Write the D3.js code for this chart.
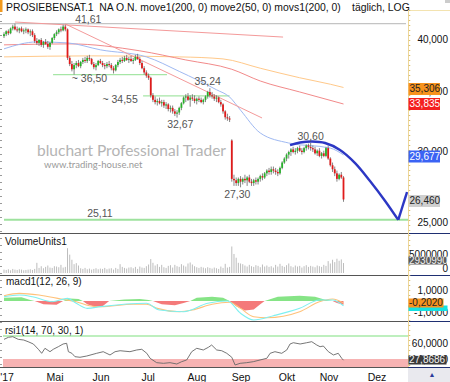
<!DOCTYPE html>
<html><head><meta charset="utf-8">
<script src="https://cdn.jsdelivr.net/npm/d3@7/dist/d3.min.js"></script>
<style>
body{margin:0;background:#fff}
svg{display:block}
text{font-family:"Liberation Sans",Arial,Helvetica,sans-serif}
</style>
</head><body>
<svg id="c" width="450" height="382"></svg>
<script>
// ---------------- DATA ----------------
const opens = [
40.3,40.5,40.8,40.6,41.1,41.3,41.0,40.9,41.1,40.8, 40.9,41.0,40.7,40.8,40.4,39.8,39.6,39.9,39.4,39.7,
39.5,39.2,39.6,40.1,40.5,40.7,41.0,40.9,41.3,41.0, 38.1,37.5,37.0,37.4,37.6,37.3,37.7,37.9,37.8,38.1,
38.0,37.5,37.2,37.4,37.8,37.6,37.4,37.3,37.5,37.4, 37.1,36.9,37.4,37.7,37.9,37.8,38.1,37.9,38.0,37.8,
37.9,38.2,38.0,37.6,37.1,36.7,36.4,36.2,34.6,34.2, 34.0,34.1,33.9,34.0,33.7,33.8,33.4,33.5,33.2,33.0,
33.1,33.5,33.9,34.4,34.5,34.2,34.4,34.3,34.1,34.3, 34.2,34.0,34.2,34.5,34.9,34.6,34.5,34.3,34.4,34.0,
33.8,33.2,32.7,32.6,30.8,27.9,27.8,27.6,27.9,27.7, 27.9,27.8,28.0,27.7,27.6,27.8,27.7,27.9,28.1,28.0,
28.3,28.5,28.4,28.6,28.5,28.4,28.3,28.7,29.1,29.4, 29.7,29.9,30.1,29.9,30.0,30.2,30.0,29.9,30.2,30.4,
30.3,30.2,30.1,29.8,30.0,29.6,29.8,29.6,30.2,29.4, 28.9,28.6,28.3,27.9,28.2,28.0];
const highs = [
40.7,40.9,41.0,41.2,41.5,41.61,41.3,41.2,41.3,41.1, 41.2,41.1,41.0,41.0,40.6,40.1,40.0,40.1,39.8,40.0,
39.8,39.7,40.2,40.6,40.9,41.1,41.3,41.5,41.5,41.1, 38.3,37.8,37.6,37.8,37.9,37.8,38.1,38.2,38.3,38.4,
38.1,37.7,37.6,37.9,38.0,37.8,37.6,37.7,37.8,37.6, 37.3,37.5,37.9,38.1,38.2,38.3,38.4,38.2,38.3,38.1,
38.4,38.5,38.2,37.8,37.3,36.9,36.6,36.3,34.8,34.5, 34.3,34.4,34.2,34.2,34.0,33.9,33.7,33.7,33.4,33.3,
33.6,34.0,34.5,34.7,34.8,34.6,34.7,34.6,34.4,34.5, 34.4,34.3,34.6,35.0,35.24,34.9,34.7,34.6,34.5,34.2,
33.9,33.3,33.0,32.8,30.9,28.2,28.0,28.0,28.1,28.0, 28.2,28.1,28.2,27.9,27.9,28.0,28.0,28.2,28.3,28.4,
28.6,28.7,28.8,28.8,28.7,28.6,28.8,29.2,29.5,29.8, 30.0,30.2,30.3,30.2,30.3,30.4,30.2,30.3,30.5,30.55,
30.6,30.4,30.3,30.1,30.2,29.9,30.0,30.3,30.4,29.5, 29.1,28.8,28.5,28.3,28.4,28.1];
const lows = [
40.1,40.3,40.4,40.5,40.9,40.9,40.7,40.6,40.7,40.5, 40.6,40.5,40.3,40.2,39.6,39.4,39.3,39.2,39.1,39.4,
39.0,38.9,39.5,39.9,40.3,40.5,40.7,40.8,40.8,37.9, 37.3,36.8,36.5,37.1,37.2,37.1,37.5,37.6,37.6,37.8,
37.4,37.0,36.9,37.3,37.5,37.2,37.0,37.1,37.2,36.9, 36.6,36.8,37.2,37.5,37.6,37.7,37.8,37.6,37.7,37.5,
37.8,37.9,37.4,37.0,36.5,36.2,36.0,34.4,34.0,33.8, 33.7,33.8,33.6,33.5,33.4,33.2,33.1,33.0,32.8,32.67,
32.9,33.3,33.8,34.0,34.1,33.6,34.1,33.9,33.8,34.0, 33.9,33.8,34.0,34.3,34.4,34.3,34.1,34.0,33.9,33.6,
33.0,32.5,32.4,32.3,27.7,27.4,27.4,27.4,27.3,27.5, 27.6,27.4,27.6,27.4,27.4,27.5,27.5,27.7,27.8,27.9,
28.1,28.2,28.2,28.3,28.2,28.1,28.2,28.6,29.0,29.2, 29.4,29.6,29.8,29.7,29.8,29.9,29.7,29.8,30.0,30.1,
30.0,29.9,29.7,29.6,29.5,29.4,29.5,29.5,29.3,28.8, 28.4,28.1,27.7,27.8,27.9,26.3];
const closes = [
40.5,40.8,40.6,41.1,41.3,41.0,40.9,41.1,40.8,40.9, 41.0,40.7,40.8,40.4,39.8,39.6,39.9,39.4,39.7,39.5,
39.2,39.6,40.1,40.5,40.7,41.0,40.9,41.3,41.0,38.1, 37.5,37.0,37.4,37.6,37.3,37.7,37.9,37.8,38.1,38.0,
37.5,37.2,37.4,37.8,37.6,37.4,37.3,37.5,37.4,37.1, 36.9,37.4,37.7,37.9,37.8,38.1,37.9,38.0,37.8,37.9,
38.2,38.0,37.6,37.1,36.7,36.4,36.2,34.6,34.2,34.0, 34.1,33.9,34.0,33.7,33.8,33.4,33.5,33.2,33.0,33.1,
33.5,33.9,34.4,34.5,34.2,34.4,34.3,34.1,34.3,34.2, 34.0,34.2,34.5,34.9,34.6,34.5,34.3,34.4,34.0,33.8,
33.2,32.7,32.6,32.5,27.9,27.8,27.6,27.9,27.7,27.9, 27.8,28.0,27.7,27.6,27.8,27.7,27.9,28.1,28.0,28.3,
28.5,28.4,28.6,28.5,28.4,28.3,28.7,29.1,29.4,29.7, 29.9,30.1,29.9,30.0,30.2,30.0,29.9,30.2,30.4,30.3,
30.2,30.1,29.8,30.0,29.6,29.8,29.6,30.2,29.4,28.9, 28.6,28.3,27.9,28.2,28.0,26.46];
// volume in millions
const volumes = [
1.0,0.9,1.1,0.8,1.2,1.0,0.9,1.1,1.0,0.8, 0.9,1.0,1.1,0.9,1.2,3.0,1.5,2.0,1.4,1.8,
2.2,1.6,1.5,2.0,1.9,1.7,2.4,1.6,1.8,7.3, 5.4,3.9,2.6,2.9,2.2,1.4,1.2,1.5,1.1,1.3,
1.0,1.2,1.4,1.1,1.3,1.2,1.5,1.1,1.3,1.4, 1.0,1.5,1.2,2.6,1.8,1.5,1.3,1.6,1.7,1.4,
1.8,1.2,1.9,1.6,1.5,2.0,2.5,4.1,3.0,2.2, 2.6,1.8,2.4,1.7,1.5,2.1,2.3,1.6,2.4,2.0,
1.8,2.6,2.2,1.9,2.8,3.1,2.5,2.0,1.7,1.5, 1.8,1.6,1.4,1.7,1.5,1.3,1.6,1.4,1.2,1.9,
1.5,2.7,1.6,1.8,7.8,5.6,4.5,3.0,2.8,2.6, 2.2,1.9,2.4,2.0,1.8,2.3,2.1,1.7,2.5,1.9,
2.2,1.8,2.0,1.6,2.4,1.9,2.7,2.1,1.8,2.3, 2.8,2.0,1.7,2.2,1.9,2.1,1.6,2.0,2.3,1.8,
2.1,1.9,1.7,2.2,2.0,1.8,2.4,2.1,3.5,2.8, 3.9,3.2,4.2,3.6,4.0,2.93];
// moving averages read at sample days: [day index, value]
const ma50 = [[0,39.0],[15,39.7],[29,39.6],[44,38.9],[65,38.2],[80,36.8],[97,35.1],[103,34.45],[108,33.3],[117,31.4],[130,30.6],[149,30.2],[155,29.677]];
const ema200 = [[0,39.4],[30,39.5],[62,38.8],[83,37.9],[104,37.0],[117,35.9],[135,34.9],[155,33.835]];
const sma200 = [[0,38.2],[40,38.3],[80,38.2],[100,38.0],[117,37.1],[135,36.2],[149,35.6],[155,35.306]];
const trendLines = [[5,41.79,127.4,40.2],[27.9,41.59,117.8,32.64]];
const projection = [[130.6,30.44],[135.2,30.64],[140.6,30.72],[146.6,30.6],[153.4,30.06],[160.3,29.06],[167.1,27.75],[174,26.36],[180,25.1]];
const projectionEnd = [[180,25.1],[184,26.97]];
const greenLevels = [[36.5,22.4,74.4],[34.55,63.5,103]];
const supportLevel = 25.11, resistLevel = 41.61;
const priceNotes = [["41,61",38.5,42.0],["~ 36,50",39,36.05],["~ 34,55",53,34.2],["35,24",93,35.75],["32,67",80.5,32.05],["30,60",140,31.05],["27,30",106.5,26.75],["25,11",43.8,25.5]];
const priceTicks = [40,35,30,25];
const macdLine = [[0,0.41],[7,0.57],[13,0.41],[22,-0.07],[29,0.25],[33,-0.22],[38,-0.70],[44,-0.54],[65,-0.22],[71,-0.86],[82,-1.02],[93,-0.22],[102,0.0],[108,-1.17],[114,-1.81],[123,-1.40],[135,-0.70],[144,0.10],[150,0.10],[155,-0.45]];
const signalLine = [[0,0.50],[7,0.73],[16,0.57],[26,0.19],[33,-0.07],[39,-0.45],[44,-0.54],[59,-0.31],[65,-0.31],[70,-0.70],[80,-1.02],[86,-0.86],[95,-0.31],[103,-0.12],[108,-0.70],[114,-1.50],[120,-1.59],[135,-1.02],[144,-0.07],[150,0.19],[155,-0.202]];
const macdHist = [[0,0.3],[8,0.35],[12,0.1],[14,0],[18,-0.3],[24,-0.35],[27,0],[30,0.25],[34,0.2],[36,0],[38,-0.3],[42,-0.6],[45,-0.5],[48,0],[55,0.15],[62,0.2],[66,0.1],[68,0],[72,-0.3],[78,-0.4],[82,-0.2],[85,0],[88,0.3],[95,0.4],[100,0.3],[103,0],[106,-0.5],[110,-0.9],[114,-0.8],[117,-0.3],[119,0],[125,0.4],[135,0.5],[142,0.4],[147,0.1],[150,0],[152,-0.2],[155,-0.35]];
const rsi = [[0,64.2],[2,67.7],[4,68.8],[6.5,64.2],[9,63.0],[11,60.1],[13.4,56.1],[15.7,46.9],[17.2,39.9],[18.7,48.6],[21,42.7],[22.5,46.9],[24.8,51.4],[27,56.1],[28.6,57.3],[29.4,42.7],[31,39.9],[32.4,34.0],[34.7,33.0],[37.8,35.2],[42.3,39.9],[45.3,42.7],[48.4,37.0],[50.7,42.7],[53,44.4],[57.5,42.7],[60.6,45.7],[62.9,46.9],[65.2,39.9],[66.7,31.2],[69.7,23.6],[72.8,22.5],[75.8,23.6],[78.9,21.3],[81.1,25.3],[83.4,28.3],[85.7,42.7],[88,48.6],[91,45.7],[93.3,50.3],[94.8,54.3],[97.1,45.7],[99.4,44.4],[101.7,39.9],[104,33.0],[105.5,19.6],[107.8,22.5],[110.8,23.6],[113.8,25.3],[116.9,28.3],[120,31.2],[121.5,39.9],[123.7,42.7],[126.8,39.9],[129.1,45.7],[130.6,56.1],[132.1,58.3],[135.2,56.1],[138.2,58.3],[140.5,60.1],[142.8,54.3],[144.3,51.4],[145.8,52.6],[148.1,42.7],[150.4,37.0],[152.6,39.9],[154.2,31.2],[155,27.8686]];
const monthLabels = ["'17","Mai","Jun","Jul","Aug","Sep","Okt","Nov","Dez"];
const monthTickIdx = [1.4,23.3,44.3,65.8,88.1,108.2,129.2,148.4,170.3];
const lastVolume = 2930990;

// ---------------- SCALES ----------------
const svg = d3.select("#c");
const W = 450, PR = 408;
const x = d3.scaleLinear().domain([0,155]).range([4,343.5]);
const y = d3.scaleLog().domain([25,40]).range([221.5,39]);
const yVol = d3.scaleLinear().domain([0,5]).range([273,256]);
const yMacd = d3.scaleLinear().domain([-1,1]).range([311.5,290.5]);
const yRsi = d3.scaleLinear().domain([30,70]).range([359,336]);
const loc = d3.formatLocale({decimal:",",thousands:".",grouping:[3],currency:["",""],minus:"-"});
const f3 = loc.format(".3f"), f4 = loc.format(".4f");

const defs = svg.append("defs");
defs.append("clipPath").attr("id","cm").append("rect").attr("x",0).attr("y",12).attr("width",PR).attr("height",221);
defs.append("clipPath").attr("id","cv").append("rect").attr("x",0).attr("y",234).attr("width",PR).attr("height",41);
defs.append("clipPath").attr("id","cd").append("rect").attr("x",0).attr("y",276).attr("width",PR).attr("height",45);
defs.append("clipPath").attr("id","cr").append("rect").attr("x",0).attr("y",322).attr("width",PR).attr("height",45);

// header
svg.append("rect").attr("x",0).attr("y",0).attr("width",2.5).attr("height",12).attr("fill","#f39a1e");
svg.append("text").attr("x",6).attr("y",11).attr("font-size",10.4).attr("fill","#111").style("white-space","pre")
  .text("PROSIEBENSAT.1  NA O.N. move1(200, 0) move2(50, 0) movs1(200, 0)");
svg.append("text").attr("x",352).attr("y",11).attr("font-size",10.4).attr("fill","#111").text("täglich, LOG");
svg.append("rect").attr("x",445).attr("y",0).attr("width",5).attr("height",3).attr("fill","#ccc");

// ---------------- MAIN PANEL ----------------
const gm = svg.append("g").attr("clip-path","url(#cm)");
// watermark
gm.append("text").attr("x",37).attr("y",156).attr("font-size",15.5).attr("fill","#b4b4b4")
  .style("font-family","Lato, 'Open Sans', sans-serif").text("bluchart Professional Trader");
gm.append("text").attr("x",44).attr("y",168).attr("font-size",9.5).attr("fill","#9a9a9a")
  .style("font-family","Lato, 'Open Sans', sans-serif").text("www.trading-house.net");

// level lines
gm.append("line").attr("x1",0).attr("x2",406).attr("y1",y(resistLevel)).attr("y2",y(resistLevel))
  .attr("stroke","#c4c4c4").attr("stroke-width",1.2);
gm.append("line").attr("x1",4).attr("x2",PR).attr("y1",y(supportLevel)).attr("y2",y(supportLevel))
  .attr("stroke","#9ee29e").attr("stroke-width",2);
gm.selectAll(".gl").data(greenLevels).join("line")
  .attr("x1",d=>x(d[1])).attr("x2",d=>x(d[2])).attr("y1",d=>y(d[0])).attr("y2",d=>y(d[0]))
  .attr("stroke","#a6e6a6").attr("stroke-width",1.2);

const lineGen = d3.line().x(d=>x(d[0])).y(d=>y(d[1])).curve(d3.curveMonotoneX);
gm.append("path").attr("d",lineGen(sma200)).attr("fill","none").attr("stroke","#ffc98a").attr("stroke-width",1);
gm.append("path").attr("d",lineGen(ema200)).attr("fill","none").attr("stroke","#f28a8a").attr("stroke-width",1);
gm.append("path").attr("d",lineGen(ma50)).attr("fill","none").attr("stroke","#9fb9f2").attr("stroke-width",1);
gm.selectAll(".tl").data(trendLines).join("line")
  .attr("x1",d=>x(d[0])).attr("y1",d=>y(d[1])).attr("x2",d=>x(d[2])).attr("y2",d=>y(d[3]))
  .attr("stroke","#f49a9a").attr("stroke-width",1);

// candles
const candles = closes.map((c,i)=>({i,o:opens[i],h:highs[i],l:lows[i],c}));
gm.selectAll(".wk").data(candles).join("line")
  .attr("x1",d=>x(d.i)).attr("x2",d=>x(d.i)).attr("y1",d=>y(d.h)).attr("y2",d=>y(d.l))
  .attr("stroke","#666").attr("stroke-width",0.8);
gm.selectAll(".bd").data(candles).join("rect")
  .attr("x",d=>x(d.i)-0.9).attr("width",1.8)
  .attr("y",d=>y(Math.max(d.o,d.c)))
  .attr("height",d=>Math.max(1,Math.abs(y(d.o)-y(d.c))))
  .attr("fill",d=>d.c>=d.o?"#27b12a":"#e01b1b");

// projection
gm.append("path").attr("d",d3.line().x(d=>x(d[0])).y(d=>y(d[1])).curve(d3.curveCatmullRom)(projection))
  .attr("fill","none").attr("stroke","#2c37c4").attr("stroke-width",2.4);
gm.append("path").attr("d",d3.line().x(d=>x(d[0])).y(d=>y(d[1]))(projectionEnd))
  .attr("fill","none").attr("stroke","#2c37c4").attr("stroke-width",2.4);

// notes
gm.selectAll(".nt").data(priceNotes).join("text")
  .attr("x",d=>x(d[1])).attr("y",d=>y(d[2])).attr("text-anchor","middle").attr("dominant-baseline","middle")
  .attr("font-size",10.5).attr("fill","#555").text(d=>d[0]);

// ---------------- VOLUME ----------------
const gv = svg.append("g").attr("clip-path","url(#cv)");
gv.selectAll("rect").data(volumes).join("rect")
  .attr("x",(d,i)=>x(i)-0.5).attr("width",1).attr("y",d=>yVol(d)).attr("height",d=>yVol(0)-yVol(d))
  .attr("fill","#bdbdbd");
svg.append("text").attr("x",5).attr("y",245).attr("font-size",10).attr("fill","#111").text("VolumeUnits1");

// ---------------- MACD ----------------
const gd = svg.append("g").attr("clip-path","url(#cd)");
const aPos = d3.area().x(d=>x(d[0])).y0(yMacd(0)).y1(d=>yMacd(Math.max(0,d[1])));
const aNeg = d3.area().x(d=>x(d[0])).y0(yMacd(0)).y1(d=>yMacd(Math.min(0,d[1])));
gd.append("path").attr("d",aPos(macdHist)).attr("fill","#86e486");
gd.append("path").attr("d",aNeg(macdHist)).attr("fill","#f47a7a");
const ml = d3.line().x(d=>x(d[0])).y(d=>yMacd(d[1])).curve(d3.curveMonotoneX);
gd.append("path").attr("d",ml(signalLine)).attr("fill","none").attr("stroke","#ffc27a").attr("stroke-width",1.1);
gd.append("path").attr("d",ml(macdLine)).attr("fill","none").attr("stroke","#7ff0f0").attr("stroke-width",1.1);
svg.append("text").attr("x",6).attr("y",285).attr("font-size",10).attr("fill","#111").text("macd1(12, 26, 9)");

// ---------------- RSI ----------------
const gr = svg.append("g").attr("clip-path","url(#cr)");
gr.append("rect").attr("x",3).attr("width",PR-3).attr("y",yRsi(30)).attr("height",367-yRsi(30)).attr("fill","#f7b3b3");
gr.append("line").attr("x1",3).attr("x2",PR).attr("y1",yRsi(70)).attr("y2",yRsi(70)).attr("stroke","#a8eaa8").attr("stroke-width",1.5);
gr.append("path").attr("d",d3.line().x(d=>x(d[0])).y(d=>yRsi(d[1]))(rsi)).attr("fill","none").attr("stroke","#666").attr("stroke-width",0.9);
svg.append("text").attr("x",5).attr("y",334).attr("font-size",10).attr("fill","#111").text("rsi1(14, 70, 30, 1)");

// ---------------- SEPARATORS / BORDERS ----------------
[233.5,275.5,321.5,367.5].forEach(yy=>{
  svg.append("line").attr("x1",0).attr("x2",PR).attr("y1",yy).attr("y2",yy).attr("stroke","#555").attr("stroke-width",1);
  svg.append("line").attr("x1",PR).attr("x2",W).attr("y1",yy).attr("y2",yy).attr("stroke","#1f2f72").attr("stroke-width",1.2);
});
svg.append("line").attr("x1",PR).attr("x2",W).attr("y1",10.5).attr("y2",10.5).attr("stroke","#f3e3b0").attr("stroke-width",1);
svg.append("line").attr("x1",PR+0.5).attr("x2",PR+0.5).attr("y1",10).attr("y2",367).attr("stroke","#eed79a").attr("stroke-width",1);
svg.append("line").attr("x1",PR+1.5).attr("x2",PR+1.5).attr("y1",10).attr("y2",367).attr("stroke","#d9bf72").attr("stroke-width",1.5).attr("stroke-dasharray","1 4");
svg.append("line").attr("x1",1).attr("x2",1).attr("y1",14).attr("y2",367).attr("stroke","#9a9a9a").attr("stroke-width",2).attr("stroke-dasharray","1 6");

// ---------------- RIGHT AXIS LABELS ----------------
const rt = (txt,yy)=>svg.append("text").attr("x",448).attr("y",yy).attr("text-anchor","end")
  .attr("dominant-baseline","middle").attr("font-size",10).attr("fill","#111").text(txt);
priceTicks.forEach(p=>rt(f3(p),y(p)+1.5));
rt("5000000",255.5); rt("0",269.5);
rt(f4(1),291.5); rt(f4(-1),313);
rt(f4(60),344); rt(f4(30),360);

const box = (txt,yy,h,bg,fg)=>{
  svg.append("rect").attr("x",408.5).attr("y",yy-h/2).attr("width",31.5).attr("height",h).attr("fill",bg);
  svg.append("text").attr("x",409.5).attr("y",yy+0.5).attr("dominant-baseline","middle").attr("font-size",10).attr("fill",fg).text(txt);
};
const boxW = (txt,yy,h,bg,fg,w)=>{
  svg.append("rect").attr("x",408.5).attr("y",yy-h/2).attr("width",w).attr("height",h).attr("fill",bg);
  svg.append("text").attr("x",409).attr("y",yy+0.5).attr("dominant-baseline","middle").attr("font-size",10).attr("fill",fg).text(txt);
};
box(f3(sma200[sma200.length-1][1]),89,12,"#f7931e","#222");
box(f3(ema200[ema200.length-1][1]),104,12,"#f42020","#fff");
box(f3(ma50[ma50.length-1][1]),156.5,12,"#3b63f4","#fff");
box(f3(closes[closes.length-1]),201,12,"#cfcfcf","#222");
boxW(String(lastVolume),260.5,8,"#5a5a5a","#f0f0f0",38.5);
svg.append("rect").attr("x",408.5).attr("y",305.5).attr("width",39).attr("height",5.5).attr("fill","#14e2e2");
boxW(f4(signalLine[signalLine.length-1][1]),303,9,"#f7931e","#222",35);
boxW(f4(rsi[rsi.length-1][1]),360,9,"#3a3a3a","#f4f4f4",38);

// ---------------- X AXIS ----------------
svg.append("rect").attr("x",PR).attr("y",368).attr("width",W-PR).attr("height",14).attr("fill","#e9e9ee");
svg.append("text").attr("x",432).attr("y",377).attr("text-anchor","middle").attr("font-size",7).attr("fill","#2a3a9a").text("▲");
svg.selectAll(".mx").data(monthLabels).join("text")
  .attr("x",(d,i)=>Math.max(7,x(monthTickIdx[i]))).attr("y",378).attr("text-anchor","middle")
  .attr("dominant-baseline","middle").attr("font-size",10.5).attr("fill","#111").text(d=>d);
</script>
</body></html>
